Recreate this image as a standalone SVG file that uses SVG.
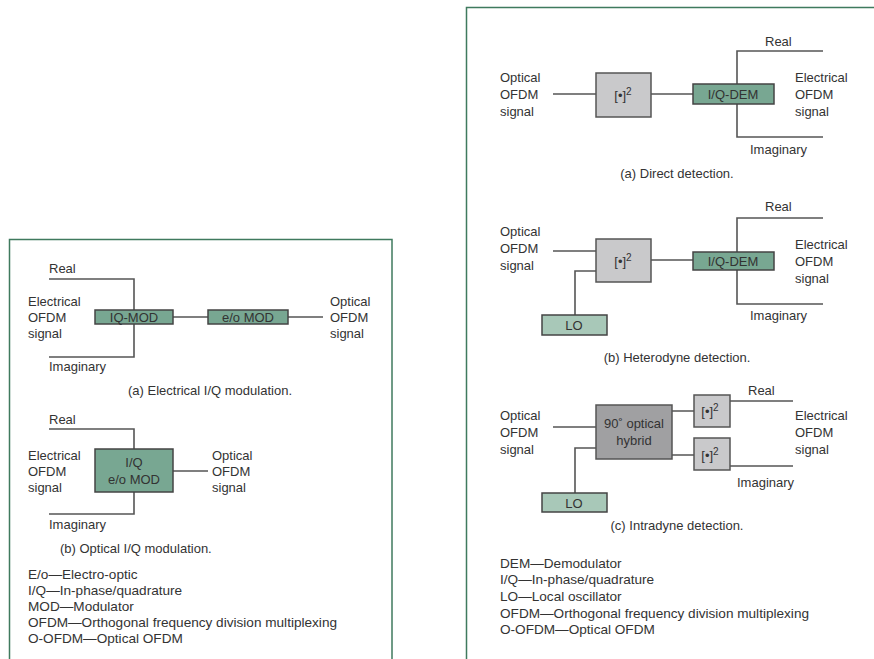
<svg xmlns="http://www.w3.org/2000/svg" width="874" height="659" viewBox="0 0 874 659">
<style>
text{font-family:"Liberation Sans",Arial,sans-serif;font-size:13px;fill:#333}
.c{text-anchor:middle}
.leg text{font-size:13.6px}
.w{stroke:#555;stroke-width:1.6;fill:none}
.g{fill:#78a792;stroke:#444;stroke-width:1.5}
.lo{fill:#a8c8b8;stroke:#444;stroke-width:1.5}
.sq{fill:#c9c9cb;stroke:#555;stroke-width:1.5}
.hy{fill:#a0a0a2;stroke:#555;stroke-width:1.5}
.frame{fill:none;stroke:#3f7a5e;stroke-width:1.5}
.s{font-size:10px}
</style>
<rect class="frame" x="9.5" y="239.5" width="382.5" height="440"/>
<path class="frame" d="M466.5 680V7.5H874"/>

<g id="connectors">
<path class="w" d="M49 279H134V357H49M173 317H208M288 317H323"/>
<path class="w" d="M49 429H134V449M134 492V514H49M173 471H208"/>
<path class="w" d="M553 94H596M651 94H693M823 51H737V137H823"/>
<path class="w" d="M553 251H596M596 271H575V315M651 260H693M823 218H737V304H823"/>
<path class="w" d="M553 427H596M596 448H575V493M672 411H694M672 455H694M730 401H793M730 466H793"/>
</g>

<g id="left-a">
<text x="49" y="273">Real</text>
<text x="28" y="306">Electrical</text><text x="28" y="322">OFDM</text><text x="28" y="338">signal</text>
<text x="49" y="371">Imaginary</text>
<text x="330" y="306">Optical</text><text x="330" y="322">OFDM</text><text x="330" y="338">signal</text>
<text class="c" x="210" y="395">(a) Electrical I/Q modulation.</text>
</g>
<g id="iq-mod"><rect class="g" x="95" y="310" width="78" height="14"/><text class="c" x="134" y="322">IQ-MOD</text></g>
<g id="eo-mod"><rect class="g" x="208" y="310" width="80" height="14"/><text class="c" x="248" y="322">e/o MOD</text></g>

<g id="left-b">
<text x="49" y="424">Real</text>
<text x="28" y="460">Electrical</text><text x="28" y="476">OFDM</text><text x="28" y="492">signal</text>
<text x="212" y="460">Optical</text><text x="212" y="476">OFDM</text><text x="212" y="492">signal</text>
<text x="49" y="529">Imaginary</text>
<text x="60" y="553">(b) Optical I/Q modulation.</text>
</g>
<g id="iq-eo-mod"><rect class="g" x="95" y="449" width="78" height="43"/><text class="c" x="134" y="467">I/Q</text><text class="c" x="134" y="484">e/o MOD</text></g>

<g id="left-legend" class="leg">
<text x="28" y="579">E/o—Electro-optic</text>
<text x="28" y="595">I/Q—In-phase/quadrature</text>
<text x="28" y="611">MOD—Modulator</text>
<text x="28" y="627">OFDM—Orthogonal frequency division multiplexing</text>
<text x="28" y="643">O-OFDM—Optical OFDM</text>
</g>

<g id="right-a">
<text x="500" y="82">Optical</text><text x="500" y="99">OFDM</text><text x="500" y="116">signal</text>
<text x="765" y="46">Real</text>
<text x="795" y="82">Electrical</text><text x="795" y="99">OFDM</text><text x="795" y="116">signal</text>
<text x="750" y="154">Imaginary</text>
<text class="c" x="677" y="178">(a) Direct detection.</text>
</g>
<g id="sq-a"><rect class="sq" x="596" y="73" width="55" height="44"/><text class="c" x="623" y="100">[•]<tspan class="s" dy="-5">2</tspan></text></g>
<g id="dem-a"><rect class="g" x="693" y="84" width="81" height="20"/><text class="c" x="733" y="99">I/Q-DEM</text></g>

<g id="right-b">
<text x="500" y="236">Optical</text><text x="500" y="253">OFDM</text><text x="500" y="270">signal</text>
<text x="765" y="211">Real</text>
<text x="795" y="249">Electrical</text><text x="795" y="266">OFDM</text><text x="795" y="283">signal</text>
<text x="750" y="320">Imaginary</text>
<text class="c" x="677" y="362">(b) Heterodyne detection.</text>
</g>
<g id="sq-b"><rect class="sq" x="596" y="239" width="55" height="43"/><text class="c" x="623" y="266">[•]<tspan class="s" dy="-5">2</tspan></text></g>
<g id="dem-b"><rect class="g" x="693" y="252" width="81" height="18"/><text class="c" x="733" y="266">I/Q-DEM</text></g>
<g id="lo-b"><rect class="lo" x="542" y="315" width="65" height="20"/><text class="c" x="574" y="330">LO</text></g>

<g id="right-c">
<text x="500" y="420">Optical</text><text x="500" y="437">OFDM</text><text x="500" y="454">signal</text>
<text x="748" y="395">Real</text>
<text x="795" y="420">Electrical</text><text x="795" y="437">OFDM</text><text x="795" y="454">signal</text>
<text x="737" y="487">Imaginary</text>
<text class="c" x="677" y="530">(c) Intradyne detection.</text>
</g>
<g id="hybrid"><rect class="hy" x="596" y="405" width="76" height="54"/><text class="c" x="634" y="428">90˚ optical</text><text class="c" x="634" y="445">hybrid</text></g>
<g id="sq-c1"><rect class="sq" x="694" y="395" width="36" height="32"/><text class="c" x="710" y="416">[•]<tspan class="s" dy="-5">2</tspan></text></g>
<g id="sq-c2"><rect class="sq" x="694" y="438" width="36" height="32"/><text class="c" x="710" y="460">[•]<tspan class="s" dy="-5">2</tspan></text></g>
<g id="lo-c"><rect class="lo" x="542" y="493" width="65" height="19"/><text class="c" x="574" y="508">LO</text></g>

<g id="right-legend" class="leg">
<text x="500" y="568">DEM—Demodulator</text>
<text x="500" y="584">I/Q—In-phase/quadrature</text>
<text x="500" y="601">LO—Local oscillator</text>
<text x="500" y="618">OFDM—Orthogonal frequency division multiplexing</text>
<text x="500" y="634">O-OFDM—Optical OFDM</text>
</g>
</svg>
